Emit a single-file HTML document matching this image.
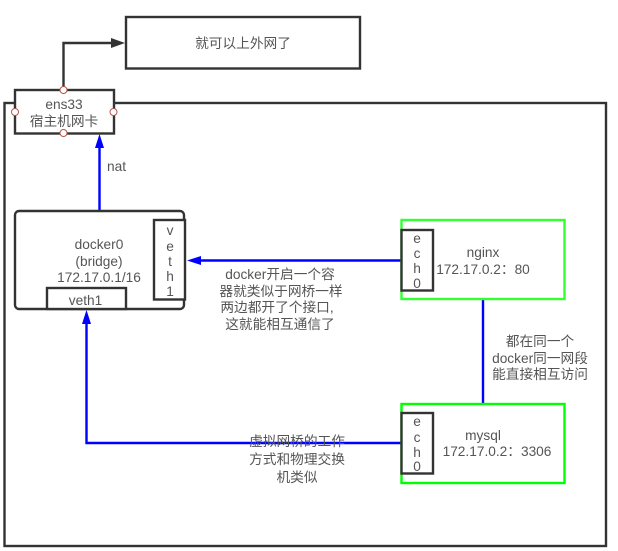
<!DOCTYPE html>
<html><head><meta charset="utf-8"><style>
html,body{margin:0;padding:0;background:#fff;width:618px;height:551px;overflow:hidden}
svg{display:block;filter:blur(.3px)}
text{font-family:"Liberation Sans","Noto Sans CJK SC",sans-serif;font-size:13.700px;fill:#555;text-anchor:middle}
</style></head><body>
<svg width="618" height="551" viewBox="0 0 618 551" xmlns="http://www.w3.org/2000/svg">
<rect width="618" height="551" fill="#fff"/>
<!-- outer -->
<rect x="4.500" y="103" width="601.500" height="443" fill="#fff" stroke="#333" stroke-width="2.400"/>
<!-- top box -->
<rect x="126" y="17" width="234" height="51.500" fill="#fff" stroke="#333" stroke-width="2.400"/>
<text x="243" y="48">就可以上外网了</text>
<path d="M63.500 90V43H112" fill="none" stroke="#333" stroke-width="2.400"/>
<path d="M111 38L125 43L111 48Z" fill="#333"/>
<!-- ens33 -->
<rect x="15" y="90" width="99" height="43.500" fill="#fff" stroke="#333" stroke-width="2.400"/>
<text x="64" y="109">ens33</text>
<text x="64" y="126">宿主机网卡</text>
<g fill="#fff" stroke="#b85450" stroke-width="1">
<circle cx="63.500" cy="90" r="3.500"/><circle cx="63.500" cy="133" r="3.500"/>
<circle cx="15" cy="112" r="3.500"/><circle cx="113.500" cy="112" r="3.500"/>
</g>
<!-- nat -->
<path d="M99.500 211V146" fill="none" stroke="#00f" stroke-width="2.400"/>
<path d="M99.500 134L104 148H95Z" fill="#00f"/>
<text x="116.500" y="171">nat</text>
<!-- docker0 -->
<rect x="15" y="211" width="169" height="98" rx="4" fill="#fff" stroke="#333" stroke-width="2.400"/>
<text x="99" y="249">docker0</text>
<text x="99" y="266">(bridge)</text>
<text x="99" y="282">172.17.0.1/16</text>
<rect x="154" y="220" width="31" height="79.500" fill="#fff" stroke="#333" stroke-width="2.400"/>
<text x="170" y="235">v</text><text x="170" y="251">e</text><text x="170" y="266">t</text><text x="170" y="281">h</text><text x="170" y="296">1</text>
<rect x="47" y="288" width="79" height="21" fill="#fff" stroke="#333" stroke-width="2.400"/>
<text x="85.500" y="305">veth1</text>
<!-- connectors -->
<path d="M401 260.500H199" fill="none" stroke="#00f" stroke-width="2.400"/>
<path d="M187 260.500L201 256V265Z" fill="#00f"/>
<path d="M483 299V404" fill="none" stroke="#00f" stroke-width="2.400"/>
<path d="M401 443H86.500V322" fill="none" stroke="#00f" stroke-width="2.400"/>
<path d="M86.500 310L91 324H82Z" fill="#00f"/>
<!-- labels -->
<text x="280" y="279">docker开启一个容</text>
<text x="281" y="296">器就类似于网桥一样</text>
<text x="277" y="312">两边都开了个接口,</text>
<text x="280" y="329">这就能相互通信了</text>
<text x="297" y="446">虚拟网桥的工作</text>
<text x="297" y="464">方式和物理交换</text>
<text x="297" y="482">机类似</text>
<text x="540" y="346">都在同一个</text>
<text x="540" y="363">docker同一网段</text>
<text x="540" y="379">能直接相互访问</text>
<!-- nginx -->
<rect x="401.500" y="220" width="163" height="79" fill="#fff" stroke="#33ff33" stroke-width="2.400"/>
<rect x="401.500" y="230" width="31.500" height="60.500" fill="#fff" stroke="#333" stroke-width="2.400"/>
<text x="417" y="243">e</text><text x="417" y="258">c</text><text x="417" y="273">h</text><text x="417" y="288">0</text>
<text x="483" y="257">nginx</text>
<text x="483" y="274">172.17.0.2：80</text>
<!-- mysql -->
<rect x="401.500" y="404" width="163" height="79" fill="#fff" stroke="#00ff00" stroke-width="2.400"/>
<rect x="401.500" y="413" width="31.500" height="60.500" fill="#fff" stroke="#333" stroke-width="2.400"/>
<text x="417" y="426">e</text><text x="417" y="442">c</text><text x="417" y="457">h</text><text x="417" y="471">0</text>
<text x="483" y="440">mysql</text>
<text x="497" y="456">172.17.0.2：3306</text>
</svg>
</body></html>
